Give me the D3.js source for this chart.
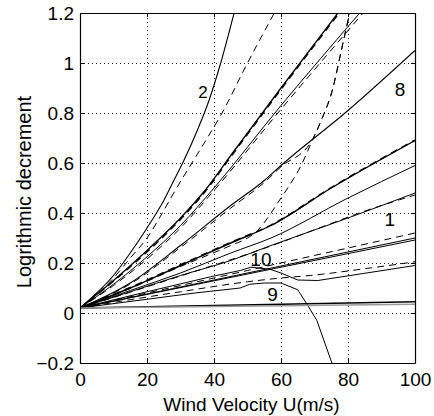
<!DOCTYPE html>
<html>
<head>
<meta charset="utf-8">
<script src="https://cdn.jsdelivr.net/npm/d3@7"></script>
<style>
  body { margin: 0; background: #fff; }
  text { font-family: "Liberation Sans", Arial, sans-serif; }
</style>
</head>
<body>
<div id="chart"></div>
<script>
// values: [wind velocity U, log decrement]
var xTicks = [0, 20, 40, 60, 80, 100];
var yTicks = [-0.2, 0, 0.2, 0.4, 0.6, 0.8, 1, 1.2];
var yTickLabels = ["\u22120.2", "0", "0.2", "0.4", "0.6", "0.8", "1", "1.2"];

var curve2 = [[0,0.02],[5,0.08],[10,0.15],[15,0.24],[20,0.34],[25,0.45],[28,0.53],[31,0.61],[35,0.73],[38.5,0.85],[42,1.0],[46,1.2]];
var curve2d = [[0,0.02],[5,0.075],[10,0.14],[15,0.22],[20,0.30],[25,0.41],[28.4,0.49],[33.4,0.6],[38,0.7],[42.4,0.8],[50,1.0],[58,1.2]];
var curveC = [[0,0.02],[10,0.13],[20,0.25],[30,0.38],[37.3,0.49],[45,0.63],[60,0.9],[77,1.2]];
var curveCd = [[0,0.02],[10,0.127],[20,0.244],[30,0.374],[37.3,0.484],[45,0.624],[60,0.894],[77.4,1.2]];
var curveE = [[0,0.02],[10,0.115],[20,0.225],[30,0.35],[40,0.5],[60,0.83],[83.5,1.2]];
var curveEd = [[0,0.02],[10,0.11],[20,0.216],[30,0.34],[40,0.49],[60,0.815],[84.5,1.2]];
var curve8 = [[0,0.02],[15,0.12],[30,0.27],[45,0.43],[55,0.53],[60,0.59],[80,0.81],[100,1.05]];
var curve8d = [[0,0.02],[15,0.116],[30,0.262],[45,0.42],[55,0.522],[60,0.585],[69,0.685],[72,0.77],[75.5,0.9],[78,1.05],[80.5,1.2]];
var curveT = [[0,0.02],[15,0.10],[30,0.19],[45,0.28],[57,0.35],[75,0.5],[100,0.69]];
var curveTd = [[0,0.02],[15,0.102],[30,0.193],[45,0.283],[57,0.352],[75,0.502],[100,0.692]];
var curveDd = [[0,0.02],[15,0.098],[30,0.186],[45,0.27],[50,0.3],[53,0.33],[56,0.38],[59,0.44],[62,0.5],[66,0.59],[69,0.68],[72,0.77],[75.5,0.9],[78,1.05],[80.5,1.2]];
var curveF = [[0,0.02],[15,0.09],[30,0.16],[45,0.24],[57,0.30],[80,0.46],[100,0.59]];
var curve1 = [[0,0.02],[15,0.085],[30,0.15],[45,0.21],[57,0.27],[80,0.38],[100,0.48]];
var curve1d = [[0,0.02],[30,0.148],[57,0.268],[72,0.343],[84,0.403],[100,0.472]];
var curveGd = [[0,0.02],[30,0.11],[50,0.17],[66.6,0.22],[80,0.26],[100,0.32]];
var curveH = [[0,0.02],[100,0.30]];
var curveH2 = [[0,0.02],[100,0.292]];
var curve10 = [[0,0.02],[20,0.085],[39,0.145],[47.8,0.17],[51,0.183],[56.7,0.175],[60,0.16],[65,0.132],[71,0.13],[100,0.19]];
var curveKd = [[0,0.02],[30,0.085],[50,0.125],[60,0.14],[68.7,0.15],[86.6,0.18],[100,0.205]];
var curve9 = [[0,0.02],[20,0.055],[34.3,0.08],[47.8,0.10],[50.7,0.115],[55,0.12],[60,0.12],[65,0.093],[68,0.03],[70.7,-0.03],[75.2,-0.2]];
var curveLow = [[0,0.02],[100,0.045]];
var curveLow2 = [[0,0.02],[100,0.035]];

var labelText = ["2", "8", "1", "10", "9"];
var labelU = [36.7, 95.5, 92.5, 54, 57.5];
var labelD = [0.86, 0.87, 0.35, 0.19, 0.05];

var margin = { top: 13, right: 19, bottom: 53, left: 80 },
  width = 434 - margin.left - margin.right,
  height = 416 - margin.top - margin.bottom;

var svg = d3
  .select("#chart")
  .append("svg")
  .attr("width", 434)
  .attr("height", 416)
  .append("g")
  .attr("transform", "translate(" + margin.left + "," + margin.top + ")");

var x = d3.scaleLinear().domain([0, 100]).range([0, width]);
var y = d3.scaleLinear().domain([-0.2, 1.2]).range([height, 0]);

// dotted grid
var gx = svg.append("g")
  .attr("transform", "translate(0," + height + ")")
  .call(d3.axisBottom(x).tickValues(xTicks.slice(1, -1)).tickSize(-height).tickFormat(""));
gx.select(".domain").remove();
gx.selectAll("line").attr("stroke", "#222").attr("stroke-dasharray", "1,3");

var gy = svg.append("g")
  .call(d3.axisLeft(y).tickValues(yTicks.slice(1, -1)).tickSize(-width).tickFormat(""));
gy.select(".domain").remove();
gy.selectAll("line").attr("stroke", "#222").attr("stroke-dasharray", "1,3");

// curves
svg.append("clipPath").attr("id", "clip")
  .append("rect").attr("width", width).attr("height", height);

var line = d3.line()
  .x(function (d) { return x(d[0]); })
  .y(function (d) { return y(d[1]); })
  .curve(d3.curveMonotoneX);
var lineStraight = d3.line()
  .x(function (d) { return x(d[0]); })
  .y(function (d) { return y(d[1]); });

var curves = [
  [curve2, "solid", 1.1], [curve2d, "dash", 1],
  [curveC, "solid", 1.3], [curveCd, "dash", 1.3],
  [curveE, "solid", 1], [curveEd, "dash", 1],
  [curve8, "solid", 1.1], [curve8d, "dash", 1],
  [curveT, "solid", 1.4], [curveTd, "dash", 1.4], [curveDd, "dash", 1],
  [curveF, "solid", 1], [curve1, "solid", 1], [curve1d, "dash", 1],
  [curveGd, "dash", 1], [curveH, "solid", 1.1], [curveH2, "solid", 1],
  [curve10, "kink", 1], [curveKd, "dash", 1], [curve9, "kink", 1],
  [curveLow, "solid", 1.3], [curveLow2, "gray", 1.3]
];

var plot = svg.append("g").attr("clip-path", "url(#clip)");
curves.forEach(function (c) {
  plot.append("path")
    .datum(c[0])
    .attr("fill", "none")
    .attr("stroke", c[1] == "gray" ? "#999" : "#000")
    .attr("stroke-width", c[2])
    .attr("stroke-dasharray", c[1] == "dash" ? "7,5" : null)
    .attr("d", c[1] == "kink" ? lineStraight : line);
});

// curve numbers
svg.selectAll(".lbl")
  .data(labelText)
  .enter()
  .append("text")
  .attr("class", "lbl")
  .attr("x", function (d, i) { return x(labelU[i]); })
  .attr("y", function (d, i) { return y(labelD[i]); })
  .attr("text-anchor", "middle")
  .attr("font-size", function (d) { return d == "2" ? 17 : 19; })
  .text(function (d) { return d; });

// axes with inward ticks, box on
var xAxis = svg.append("g")
  .attr("transform", "translate(0," + height + ")")
  .call(d3.axisBottom(x).tickValues(xTicks).tickSizeInner(-4).tickSizeOuter(0).tickPadding(10));
var yAxis = svg.append("g")
  .call(d3.axisLeft(y).tickValues(yTicks).tickSizeInner(-4).tickSizeOuter(0).tickPadding(6)
    .tickFormat(function (d, i) { return yTickLabels[i]; }));
svg.append("g")
  .call(d3.axisTop(x).tickValues(xTicks).tickSizeInner(-4).tickSizeOuter(0).tickFormat(""));
svg.append("g")
  .attr("transform", "translate(" + width + ",0)")
  .call(d3.axisRight(y).tickValues(yTicks).tickSizeInner(-4).tickSizeOuter(0).tickFormat(""));

svg.selectAll(".domain").attr("stroke", "#000").attr("stroke-width", 1.2);
svg.selectAll(".tick text")
  .attr("font-size", 19)
  .attr("fill", "#000")
  .attr("font-family", "Liberation Sans, Arial, sans-serif");

svg.append("text")
  .attr("x", width / 2 + 4)
  .attr("y", height + 48)
  .attr("text-anchor", "middle")
  .attr("font-size", 19)
  .text("Wind Velocity U(m/s)");

svg.append("text")
  .attr("transform", "translate(" + (-49) + "," + (height / 2 + 4) + ")rotate(-90)")
  .attr("text-anchor", "middle")
  .attr("font-size", 20)
  .text("Logrithmic decrement");
</script>
</body>
</html>
